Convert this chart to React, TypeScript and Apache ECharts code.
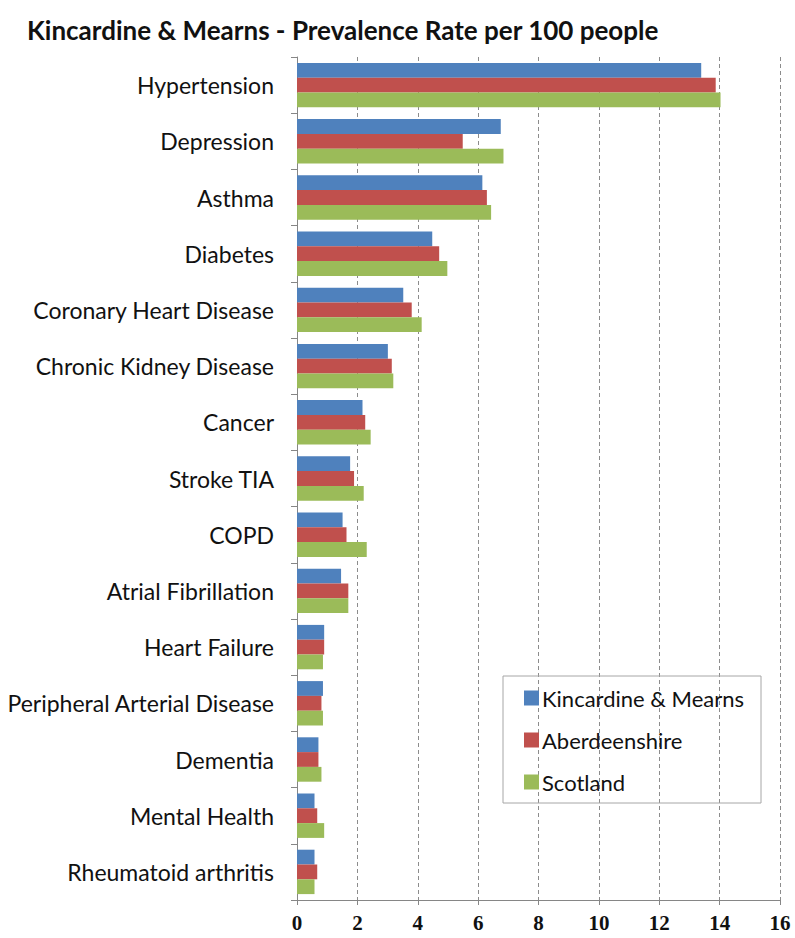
import React, { useEffect, useRef } from "react";
import * as echarts from "echarts";

const categories = [
  "Hypertension",
  "Depression",
  "Asthma",
  "Diabetes",
  "Coronary Heart Disease",
  "Chronic Kidney Disease",
  "Cancer",
  "Stroke TIA",
  "COPD",
  "Atrial Fibrillation",
  "Heart Failure",
  "Peripheral Arterial Disease",
  "Dementia",
  "Mental Health",
  "Rheumatoid arthritis",
];

const kincardineMearns = [13.39, 6.75, 6.14, 4.48, 3.52, 3.01, 2.17, 1.76, 1.51, 1.46, 0.9, 0.86, 0.71, 0.58, 0.58];
const aberdeenshire = [13.87, 5.49, 6.29, 4.71, 3.8, 3.14, 2.26, 1.89, 1.64, 1.7, 0.9, 0.81, 0.71, 0.67, 0.67];
const scotland = [14.03, 6.84, 6.43, 4.98, 4.13, 3.19, 2.44, 2.21, 2.31, 1.7, 0.86, 0.86, 0.81, 0.9, 0.58];

const seriesNames = ["Kincardine & Mearns", "Aberdeenshire", "Scotland"];
const seriesColors = ["#4F81BD", "#C0504D", "#9BBB59"];

const labelFont = "Lato, 'Open Sans', sans-serif";

export default function App() {
  const ref = useRef<HTMLDivElement>(null);

  useEffect(() => {
    if (!ref.current) return;
    const chart = echarts.init(ref.current, undefined, { renderer: "svg" });
    const values = [kincardineMearns, aberdeenshire, scotland];
    chart.setOption({
      animation: false,
      backgroundColor: "#ffffff",
      title: {
        text: "Kincardine & Mearns - Prevalence Rate per 100 people",
        left: 22,
        top: 12,
        textStyle: {
          fontFamily: labelFont,
          fontSize: 26,
          fontWeight: "bold",
          color: "#111111",
        },
      },
      legend: {
        orient: "vertical",
        left: 503,
        top: 676,
        padding: [11, 17, 10, 21],
        itemWidth: 15,
        itemHeight: 15,
        itemGap: 20,
        borderColor: "#a6a6a6",
        borderWidth: 1,
        icon: "rect",
        textStyle: { fontFamily: labelFont, fontSize: 22, color: "#111111", padding: [0, 0, 0, -2] },
        data: seriesNames,
      },
      grid: {
        left: 297,
        right: 15,
        top: 57,
        bottom: 38,
        containLabel: false,
        outerBoundsMode: "none",
      },
      xAxis: {
        type: "value",
        min: 0,
        max: 16,
        interval: 2,
        axisLine: { show: true, lineStyle: { color: "#868686" } },
        axisTick: { show: true, length: 5, lineStyle: { color: "#868686" } },
        axisLabel: {
          fontFamily: "'Liberation Serif', serif",
          fontWeight: "bold",
          fontSize: 21,
          lineHeight: 21,
          color: "#111111",
          margin: 12,
        },
        splitLine: { show: true, lineStyle: { color: "#8c8c8c", type: [4, 3], width: 1 } },
      },
      yAxis: {
        type: "category",
        inverse: true,
        data: categories,
        axisLine: { show: true, lineStyle: { color: "#868686" } },
        axisTick: { show: true, length: 6, lineStyle: { color: "#868686" } },
        axisLabel: { fontFamily: labelFont, fontSize: 23, color: "#111111", margin: 23 },
        splitLine: { show: false },
      },
      series: values.map((v, i) => ({
        name: seriesNames[i],
        type: "bar",
        data: v,
        itemStyle: { color: seriesColors[i] },
        barGap: "0%",
        barCategoryGap: "21%",
      })),
    });
    return () => chart.dispose();
  }, []);

  return (
    <div
      ref={ref}
      style={{ position: "absolute", left: 0, top: 0, width: 795, height: 938 }}
    />
  );
}
